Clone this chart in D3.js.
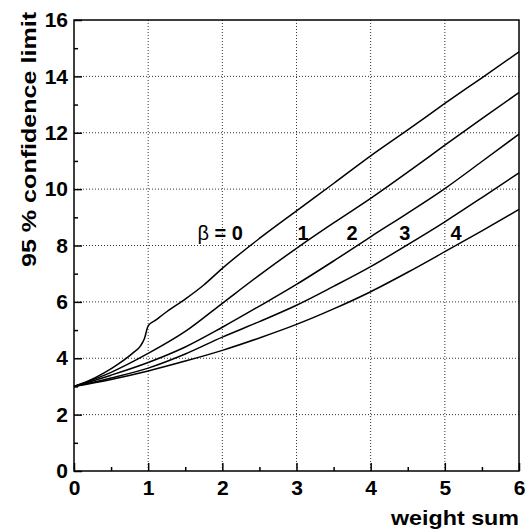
<!DOCTYPE html>
<html>
<head>
<meta charset="utf-8">
<script src="https://cdn.jsdelivr.net/npm/d3@7"></script>
<style>
  body { margin: 0; background: #fff; }
  text { font-family: "Liberation Sans", Arial, sans-serif; font-weight: bold; }
</style>
</head>
<body>
<div id="chart"></div>
<script>
// Curve values (weight sum -> 95% limit)
var xs0 = [0, 0.2, 0.4, 0.6, 0.8, 0.9, 0.95, 1.0, 1.1, 1.25, 1.5, 1.75, 2, 2.5, 3, 3.5, 4, 4.5, 5, 5.5, 6];
var beta0 = [3, 3.2, 3.47, 3.8, 4.2, 4.45, 4.7, 5.15, 5.35, 5.65, 6.1, 6.6, 7.19, 8.25, 9.23, 10.2, 11.18, 12.1, 13.04, 13.95, 14.87];

var xs = [0, 0.5, 1, 1.5, 2, 2.5, 3, 3.5, 4, 4.5, 5, 5.5, 6];
var beta1 = [3, 3.5, 4.17, 4.95, 5.95, 6.95, 7.9, 8.8, 9.67, 10.6, 11.56, 12.5, 13.43];
var beta2 = [3, 3.4, 3.85, 4.4, 5.1, 5.85, 6.62, 7.45, 8.31, 9.15, 10.02, 10.98, 11.95];
var beta3 = [3, 3.3, 3.65, 4.15, 4.75, 5.3, 5.88, 6.55, 7.25, 8.03, 8.84, 9.7, 10.58];
var beta4 = [3, 3.25, 3.55, 3.9, 4.28, 4.72, 5.2, 5.75, 6.36, 7.05, 7.78, 8.52, 9.28];

// Curve labels
var labelX = [1.97, 3.09, 3.75, 4.46, 5.15];
var labelText = ["0", "1", "2", "3", "4"];
var labelY = 8.2;

var xTicks = [0, 1, 2, 3, 4, 5, 6];
var yTicks = [0, 2, 4, 6, 8, 10, 12, 14, 16];

// Define SVG area dimensions
var svgWidth = 525;
var svgHeight = 529;
var margin = { top: 20, right: 6, bottom: 58, left: 74 };
var width = svgWidth - margin.left - margin.right;
var height = svgHeight - margin.top - margin.bottom;

var svg = d3.select("#chart")
  .append("svg")
  .attr("width", svgWidth)
  .attr("height", svgHeight);

var g = svg.append("g")
  .attr("transform", `translate(${margin.left}, ${margin.top})`);

var x = d3.scaleLinear().domain([0, 6]).range([0, width]);
var y = d3.scaleLinear().domain([0, 16]).range([height, 0]);

// dotted grid
g.selectAll(".vgrid")
  .data(xTicks.slice(1, -1))
  .enter()
  .append("line")
  .attr("x1", d => x(d)).attr("x2", d => x(d))
  .attr("y1", 0).attr("y2", height)
  .attr("stroke", "#333")
  .attr("stroke-dasharray", "1,2");

g.selectAll(".hgrid")
  .data(yTicks.slice(1, -1))
  .enter()
  .append("line")
  .attr("x1", 0).attr("x2", width)
  .attr("y1", d => y(d)).attr("y2", d => y(d))
  .attr("stroke", "#333")
  .attr("stroke-dasharray", "1,2");

// axes with inward ticks
var bottomAxis = d3.axisBottom(x).tickValues(xTicks).tickSize(-8).tickPadding(9).tickFormat(d3.format("d"));
var bottomMinor = d3.axisBottom(x).tickValues(d3.range(0.5, 6, 1)).tickSize(-4).tickFormat("");
var leftAxis = d3.axisLeft(y).tickValues(yTicks).tickSize(-8).tickPadding(6).tickFormat(d3.format("d"));
var leftMinor = d3.axisLeft(y).tickValues(d3.range(1, 16, 2)).tickSize(-4).tickFormat("");

function styleAxis(sel) {
  sel.select(".domain").remove();
  sel.selectAll("line").attr("stroke", "#000").attr("stroke-width", 1.5);
  sel.selectAll("text").attr("font-size", 21).attr("fill", "#000")
    .attr("font-family", "'Liberation Sans', Arial, sans-serif").attr("font-weight", "bold");
}

g.append("g").attr("transform", `translate(0, ${height})`).call(bottomAxis).call(styleAxis)
  .selectAll("text").attr("dy", "0.71em");
g.append("g").attr("transform", `translate(0, ${height})`).call(bottomMinor).call(styleAxis);
g.append("g").call(leftAxis).call(styleAxis);
g.append("g").call(leftMinor).call(styleAxis);

// frame
g.append("rect")
  .attr("width", width).attr("height", height)
  .attr("fill", "none").attr("stroke", "#000").attr("stroke-width", 1.5);

// curves
var line = d3.line()
  .x(d => x(d[0]))
  .y(d => y(d[1]))
  .curve(d3.curveMonotoneX);

var series = [d3.zip(xs0, beta0), d3.zip(xs, beta1), d3.zip(xs, beta2), d3.zip(xs, beta3), d3.zip(xs, beta4)];

g.selectAll(".curve")
  .data(series)
  .enter()
  .append("path")
  .attr("d", line)
  .attr("fill", "none")
  .attr("stroke", "#000")
  .attr("stroke-width", 1.5);

// curve labels
var lab = g.selectAll(".lab")
  .data(labelX)
  .enter()
  .append("text")
  .attr("x", d => x(d))
  .attr("y", y(labelY))
  .attr("text-anchor", "middle")
  .attr("font-size", 20);

lab.filter((d, i) => i === 0)
  .each(function() {
    var t = d3.select(this);
    t.append("tspan").attr("font-weight", "normal").text("\u03B2");
    t.append("tspan").text(" = " + labelText[0]);
  });
lab.filter((d, i) => i > 0)
  .text((d, i) => labelText[i + 1]);

// axis titles
svg.append("text")
  .attr("x", margin.left + width)
  .attr("y", svgHeight - 4)
  .attr("text-anchor", "end")
  .attr("font-size", 21)
  .attr("textLength", 128)
  .attr("lengthAdjust", "spacingAndGlyphs")
  .text("weight sum");

svg.append("text")
  .attr("transform", "rotate(-90)")
  .attr("x", -12)
  .attr("y", 36)
  .attr("text-anchor", "end")
  .attr("font-size", 21)
  .attr("textLength", 255)
  .attr("lengthAdjust", "spacingAndGlyphs")
  .text("95 % confidence limit");
</script>
</body>
</html>
